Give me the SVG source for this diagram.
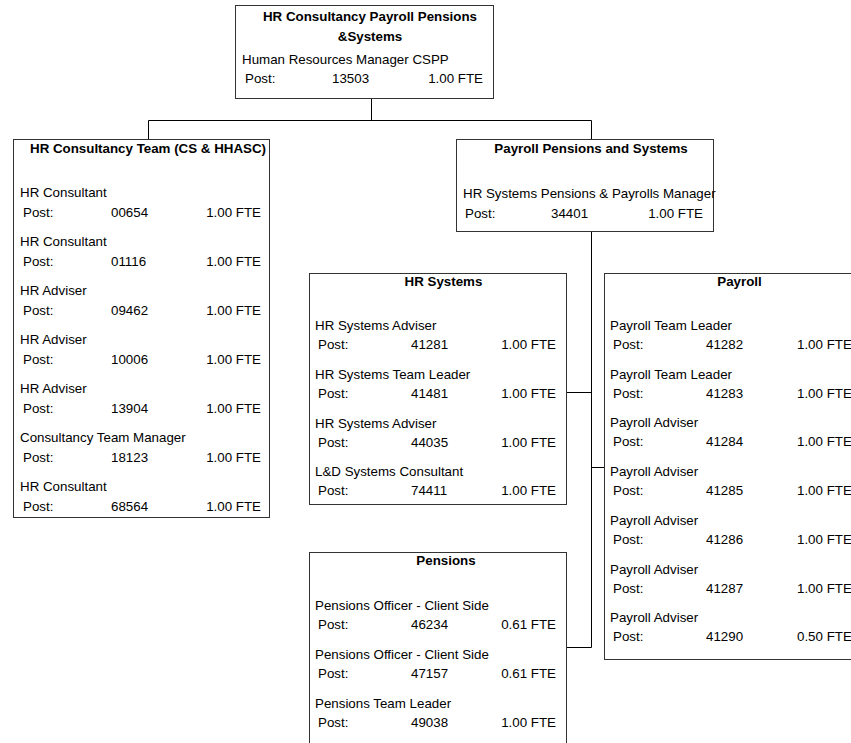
<svg xmlns="http://www.w3.org/2000/svg" width="851" height="743" viewBox="0 0 851 743">
<style>
text{font-family:"Liberation Sans",Arial,sans-serif;font-size:13.33px;fill:#000}
.t{font-weight:bold;text-anchor:middle}
.r{text-anchor:end}
.box{fill:#fff;stroke:#333;stroke-width:1}
.ln{fill:none;stroke:#000;stroke-width:1}
</style>
<rect width="851" height="743" fill="#fff"/>
<g id="connectors">
<path class="ln" d="M371.5,99 V120.5 M148.5,120.5 H591.5 M148.5,120.5 V139 M591.5,120.5 V139"/>
<path class="ln" d="M591.5,232 V647.5 M567,392.5 H591.5 M591.5,467.5 H604 M567,647.5 H591.5"/>
</g>
<g id="top">
<rect class="box" x="235.5" y="5.5" width="258" height="93"/>
<text class="t" x="370" y="21">HR Consultancy Payroll Pensions</text>
<text class="t" x="370" y="41">&amp;Systems</text>
<text x="242" y="64">Human Resources Manager CSPP</text>
<text x="245" y="83">Post:</text><text x="332" y="83">13503</text><text class="r" x="483" y="83">1.00 FTE</text>
</g>
<g id="consultancy">
<rect class="box" x="13.5" y="139.5" width="256" height="378"/>
<text class="t" x="148" y="153">HR Consultancy Team (CS &amp; HHASC)</text>
<text x="20" y="197">HR Consultant</text>
<text x="23" y="217">Post:</text><text x="111" y="217">00654</text><text class="r" x="261" y="217">1.00 FTE</text>
<text x="20" y="246">HR Consultant</text>
<text x="23" y="266">Post:</text><text x="111" y="266">01116</text><text class="r" x="261" y="266">1.00 FTE</text>
<text x="20" y="295">HR Adviser</text>
<text x="23" y="315">Post:</text><text x="111" y="315">09462</text><text class="r" x="261" y="315">1.00 FTE</text>
<text x="20" y="344">HR Adviser</text>
<text x="23" y="364">Post:</text><text x="111" y="364">10006</text><text class="r" x="261" y="364">1.00 FTE</text>
<text x="20" y="393">HR Adviser</text>
<text x="23" y="413">Post:</text><text x="111" y="413">13904</text><text class="r" x="261" y="413">1.00 FTE</text>
<text x="20" y="442">Consultancy Team Manager</text>
<text x="23" y="462">Post:</text><text x="111" y="462">18123</text><text class="r" x="261" y="462">1.00 FTE</text>
<text x="20" y="491">HR Consultant</text>
<text x="23" y="511">Post:</text><text x="111" y="511">68564</text><text class="r" x="261" y="511">1.00 FTE</text>
</g>
<g id="pps">
<rect class="box" x="456.5" y="139.5" width="257" height="92"/>
<text class="t" x="591" y="153">Payroll Pensions and Systems</text>
<text x="463" y="198">HR Systems Pensions &amp; Payrolls Manager</text>
<text x="465" y="218">Post:</text><text x="551" y="218">34401</text><text class="r" x="703" y="218">1.00 FTE</text>
</g>
<g id="hrsystems">
<rect class="box" x="309.5" y="273.5" width="257" height="231"/>
<text class="t" x="443.5" y="286">HR Systems</text>
<text x="315" y="330">HR Systems Adviser</text>
<text x="318" y="349">Post:</text><text x="411" y="349">41281</text><text class="r" x="556" y="349">1.00 FTE</text>
<text x="315" y="379">HR Systems Team Leader</text>
<text x="318" y="398">Post:</text><text x="411" y="398">41481</text><text class="r" x="556" y="398">1.00 FTE</text>
<text x="315" y="428">HR Systems Adviser</text>
<text x="318" y="447">Post:</text><text x="411" y="447">44035</text><text class="r" x="556" y="447">1.00 FTE</text>
<text x="315" y="476">L&amp;D Systems Consultant</text>
<text x="318" y="495">Post:</text><text x="411" y="495">74411</text><text class="r" x="556" y="495">1.00 FTE</text>
</g>
<g id="payroll">
<rect class="box" x="604.5" y="273.5" width="258" height="386"/>
<text class="t" x="739.5" y="286">Payroll</text>
<text x="610" y="330">Payroll Team Leader</text>
<text x="613" y="349">Post:</text><text x="706" y="349">41282</text><text x="797" y="349">1.00 FTE</text>
<text x="610" y="379">Payroll Team Leader</text>
<text x="613" y="398">Post:</text><text x="706" y="398">41283</text><text x="797" y="398">1.00 FTE</text>
<text x="610" y="427">Payroll Adviser</text>
<text x="613" y="446">Post:</text><text x="706" y="446">41284</text><text x="797" y="446">1.00 FTE</text>
<text x="610" y="476">Payroll Adviser</text>
<text x="613" y="495">Post:</text><text x="706" y="495">41285</text><text x="797" y="495">1.00 FTE</text>
<text x="610" y="525">Payroll Adviser</text>
<text x="613" y="544">Post:</text><text x="706" y="544">41286</text><text x="797" y="544">1.00 FTE</text>
<text x="610" y="574">Payroll Adviser</text>
<text x="613" y="593">Post:</text><text x="706" y="593">41287</text><text x="797" y="593">1.00 FTE</text>
<text x="610" y="622">Payroll Adviser</text>
<text x="613" y="641">Post:</text><text x="706" y="641">41290</text><text x="797" y="641">0.50 FTE</text>
</g>
<g id="pensions">
<rect class="box" x="309.5" y="552.5" width="257" height="200"/>
<text class="t" x="446" y="565">Pensions</text>
<text x="315" y="610">Pensions Officer - Client Side</text>
<text x="318" y="629">Post:</text><text x="411" y="629">46234</text><text class="r" x="556" y="629">0.61 FTE</text>
<text x="315" y="659">Pensions Officer - Client Side</text>
<text x="318" y="678">Post:</text><text x="411" y="678">47157</text><text class="r" x="556" y="678">0.61 FTE</text>
<text x="315" y="708">Pensions Team Leader</text>
<text x="318" y="727">Post:</text><text x="411" y="727">49038</text><text class="r" x="556" y="727">1.00 FTE</text>
</g>
</svg>
